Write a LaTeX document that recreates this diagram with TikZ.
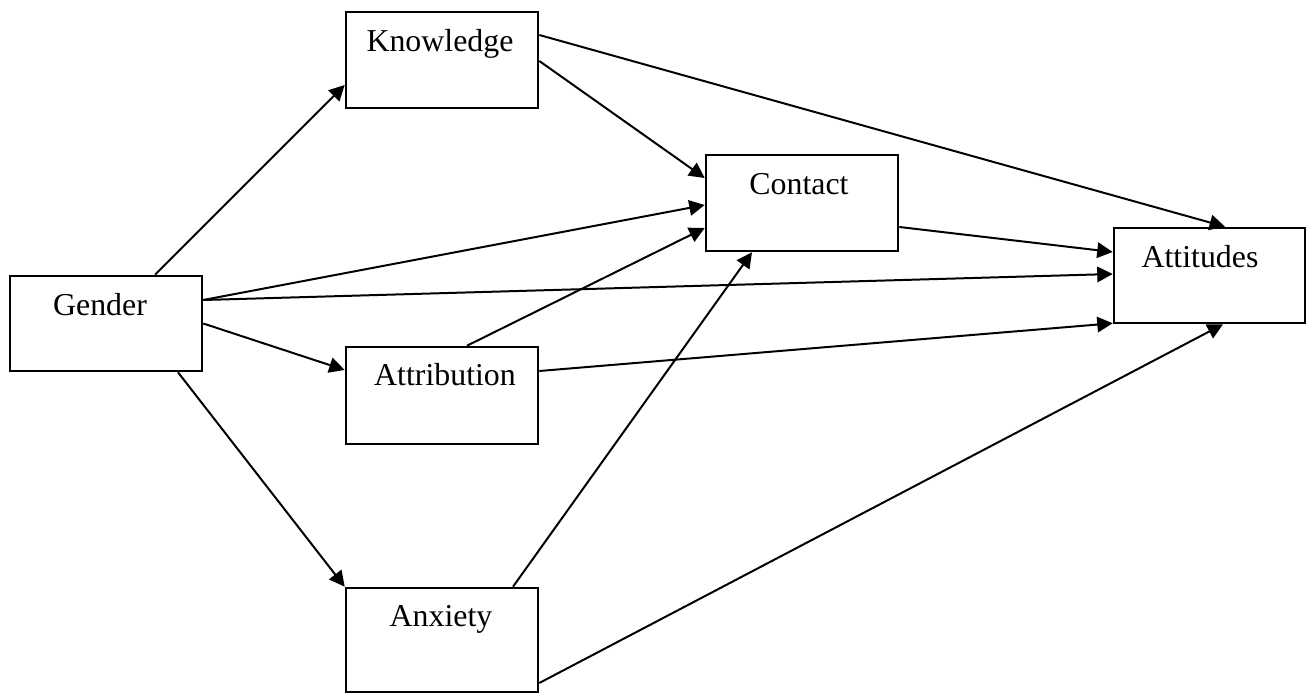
\documentclass[tikz,border=0pt]{standalone}
\usepackage{fontspec}
\setmainfont{Liberation Serif}
\usetikzlibrary{arrows.meta}

\begin{document}
\begin{tikzpicture}[x=0.015cm, y=-0.015cm,
  box/.style={draw, line width=1.1pt, inner sep=0pt, minimum width=192*0.015cm, minimum height=96*0.015cm},
  boxtext/.style={anchor=base, inner sep=0pt, font=\fontsize{13.6}{16}\selectfont},
  arrow/.style={-{Triangle[length=6.6pt, width=6.6pt]}, line width=0.85pt}]
\useasboundingbox (0,0) rectangle (1306,694);

\node[box, minimum height=95*0.015cm] (gender) at (106,323.5) {};
\node[box] (knowledge) at (442,60) {};
\node[box] (contact) at (802,203) {};
\node[box, minimum width=191*0.015cm, minimum height=95*0.015cm] (attitudes) at (1209.5,275.5) {};
\node[box, minimum height=97*0.015cm] (attribution) at (442,395.5) {};
\node[box, minimum height=104*0.015cm] (anxiety) at (442,640) {};

\node[boxtext] (gendertext) at ([shift={(-6,40.5)}]gender.north) {Gender};
\node[boxtext] (knowledgetext) at ([shift={(-2,40.5)}]knowledge.north) {Knowledge};
\node[boxtext] (contacttext) at ([shift={(-3,40.5)}]contact.north) {Contact};
\node[boxtext] (attitudestext) at ([shift={(-9.5,40.5)}]attitudes.north) {Attitudes};
\node[boxtext] (attributiontext) at ([shift={(3,40)}]attribution.north) {Attribution};
\node[boxtext] (anxietytext) at ([shift={(-1,39.5)}]anxiety.north) {Anxiety};

\draw[arrow] ([shift={(49,0)}]gender.north) -- ([shift={(0,25)}]knowledge.west);
\draw[arrow] ([shift={(0,-23.5)}]gender.east) -- ([shift={(0,2)}]contact.west);
\draw[arrow] ([shift={(0,-23.5)}]gender.east) -- ([shift={(0,-1.5)}]attitudes.west);
\draw[arrow] (gender.east) -- ([shift={(0,-25.5)}]attribution.west);
\draw[arrow] ([shift={(72,0)}]gender.south) -- (anxiety.north west);
\draw[arrow] ([shift={(0,1)}]knowledge.east) -- ([shift={(0,-25)}]contact.west);
\draw[arrow] ([shift={(0,-25)}]knowledge.east) -- ([shift={(15.5,0)}]attitudes.north);
\draw[arrow] ([shift={(0,24)}]contact.east) -- ([shift={(0,-23.5)}]attitudes.west);
\draw[arrow] ([shift={(25,0)}]attribution.north) -- ([shift={(0,25)}]contact.west);
\draw[arrow] ([shift={(0,-24.5)}]attribution.east) -- ([shift={(0,-1)}]attitudes.south west);
\draw[arrow] ([shift={(71,0)}]anxiety.north) -- ([shift={(-50,0)}]contact.south);
\draw[arrow] ([shift={(0,43)}]anxiety.east) -- ([shift={(13.5,0)}]attitudes.south);
\end{tikzpicture}
\end{document}
